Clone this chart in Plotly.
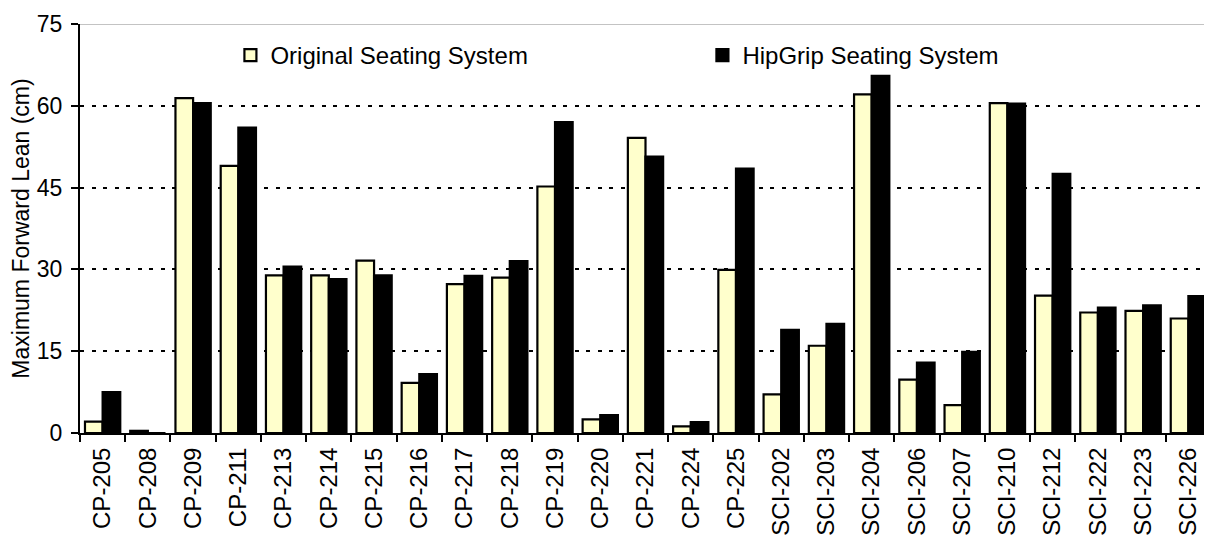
import plotly.graph_objects as go

categories = ["CP-205", "CP-208", "CP-209", "CP-211", "CP-213", "CP-214", "CP-215",
              "CP-216", "CP-217", "CP-218", "CP-219", "CP-220", "CP-221", "CP-224",
              "CP-225", "SCI-202", "SCI-203", "SCI-204", "SCI-206", "SCI-207",
              "SCI-210", "SCI-212", "SCI-222", "SCI-223", "SCI-226"]
original = [2.1, 0.4, 61.4, 49.0, 28.9, 28.9, 31.6, 9.2, 27.3, 28.5, 45.2, 2.5, 54.1, 1.2,
            29.9, 7.1, 16.0, 62.1, 9.8, 5.1, 60.5, 25.2, 22.1, 22.4, 21.0]
hipgrip = [7.5, 0.0, 60.5, 56.0, 30.5, 28.2, 28.9, 10.8, 28.8, 31.5, 57.0, 3.3, 50.7, 2.0,
           48.5, 18.9, 20.0, 65.5, 12.9, 14.9, 60.4, 47.5, 23.0, 23.4, 25.1]
y_ticks = [0, 15, 30, 45, 60, 75]

FONT = "Liberation Sans, Arial, sans-serif"

fig = go.Figure()
fig.add_trace(go.Bar(x=categories, y=original, name="Original Seating System",
                     marker=dict(color="#FFFFCC", line=dict(color="black", width=2.2))))
fig.add_trace(go.Bar(x=categories, y=hipgrip, name="HipGrip Seating System",
                     marker=dict(color="black", line=dict(color="black", width=2.2))))

# thin solid top border at the 75 line
fig.add_shape(type="line", xref="paper", yref="y", x0=0, x1=1, y0=75, y1=75,
              line=dict(color="#888888", width=1), layer="below")

# the page body adds an 8px offset; the figure is sized to fit the 1212x535 window
fig.update_layout(
    width=1204, height=527,
    margin=dict(l=72, r=1, t=16, b=102),
    paper_bgcolor="white", plot_bgcolor="white",
    barmode="group", bargap=0.22, bargroupgap=0,
    font=dict(family=FONT, size=23, color="black"),
    showlegend=True,
    legend=dict(orientation="h", x=0.133, y=0.978, xanchor="left", yanchor="top",
                entrywidth=427, entrywidthmode="pixels",
                font=dict(family=FONT, size=24, color="black"),
                bgcolor="rgba(0,0,0,0)", itemwidth=30),
)
fig.update_xaxes(
    type="category", showline=True, linecolor="black", linewidth=2,
    ticks="outside", ticklen=7, tickwidth=2, tickcolor="black",
    tickson="boundaries", tickangle=-90, showgrid=False, automargin=False,
    tickfont=dict(family=FONT, size=24, color="black"),
    ticklabelstandoff=3,
)
fig.update_yaxes(
    range=[0, 75], tickvals=y_ticks, showline=True, linecolor="black", linewidth=2,
    ticks="outside", ticklen=7, tickwidth=2, tickcolor="black",
    showgrid=True, gridcolor="black", gridwidth=2, griddash="4px,7.5px",
    zeroline=False, automargin=False,
    title=dict(text="Maximum Forward Lean (cm)", font=dict(family=FONT, size=23, color="black"),
               standoff=6),
    tickfont=dict(family=FONT, size=23, color="black"),
    ticklabelstandoff=4,
)

fig.write_html("out.html")
